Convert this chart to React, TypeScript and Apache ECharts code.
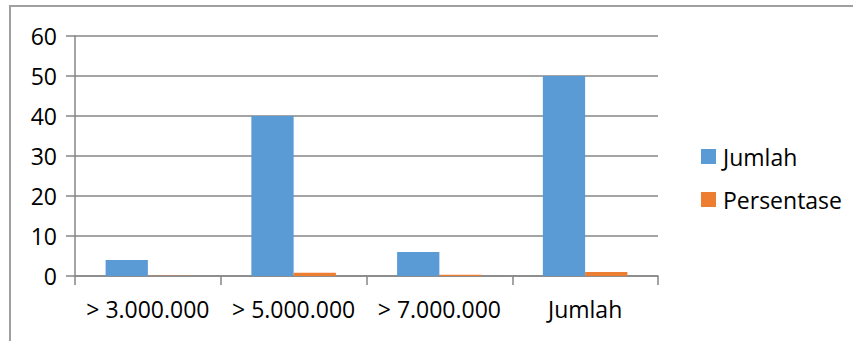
import React, { useEffect, useRef } from "react";
import * as echarts from "echarts";

const categories = ["> 3.000.000", "> 5.000.000", "> 7.000.000", "Jumlah"];
const jumlah = [4, 40, 6, 50];
const persentase = [0.08, 0.8, 0.3, 1.0];
const yTicks = { min: 0, max: 60, interval: 10 };

export default function App() {
  const ref = useRef<HTMLDivElement>(null);
  useEffect(() => {
    if (!ref.current) return;
    const chart = echarts.init(ref.current, null, { renderer: "svg" });
    const font = "'Open Sans', sans-serif";
    chart.setOption({
      animation: false,
      backgroundColor: "#ffffff",
      textStyle: { fontFamily: font },
      graphic: [
        {
          type: "rect",
          shape: { x: 10, y: 6, width: 900, height: 400 },
          style: { fill: "none", stroke: "#a0a0a0", lineWidth: 2 },
          silent: true,
        },
      ],
      grid: { left: 75, right: 195, top: 36, bottom: 65 },
      legend: {
        orient: "vertical",
        left: 696,
        top: 140,
        itemWidth: 15,
        itemHeight: 15,
        itemGap: 20,
        icon: "rect",
        textStyle: { fontSize: 23, color: "#000", fontFamily: font, padding: [0, 0, 0, 2] },
        data: ["Jumlah", "Persentase"],
      },
      xAxis: {
        type: "category",
        data: categories,
        axisLine: { lineStyle: { color: "#868686", width: 1.5 } },
        axisTick: { show: true, length: 9, lineStyle: { color: "#868686", width: 1.5 } },
        axisLabel: { fontSize: 23, color: "#000", margin: 21, fontFamily: font, interval: 0 },
      },
      yAxis: {
        type: "value",
        min: yTicks.min,
        max: yTicks.max,
        interval: yTicks.interval,
        axisLine: { show: true, lineStyle: { color: "#868686", width: 1.5 } },
        axisTick: { show: true, length: 9, lineStyle: { color: "#868686", width: 1.5 } },
        splitLine: { lineStyle: { color: "#868686", width: 1.5 } },
        axisLabel: { fontSize: 23, color: "#000", margin: 18, fontFamily: font },
      },
      series: [
        {
          name: "Jumlah",
          type: "bar",
          data: jumlah,
          itemStyle: { color: "#5b9bd5" },
          barGap: "0%",
          barCategoryGap: "42%",
        },
        {
          name: "Persentase",
          type: "bar",
          data: persentase,
          itemStyle: { color: "#ed7d31" },
          barGap: "0%",
          barCategoryGap: "42%",
        },
      ],
    });
    return () => chart.dispose();
  }, []);
  return (
    <div
      ref={ref}
      style={{ position: "fixed", left: 0, top: 0, width: 853, height: 341 }}
    />
  );
}
